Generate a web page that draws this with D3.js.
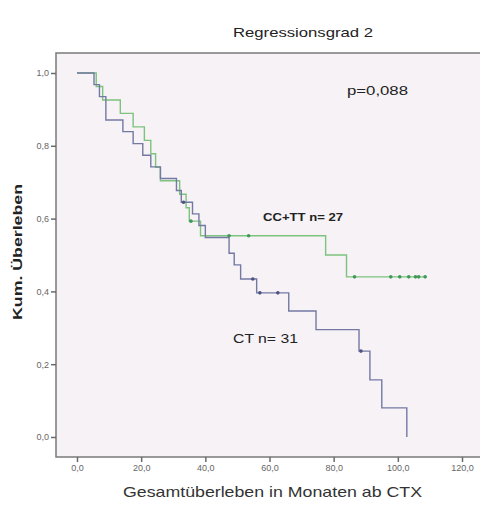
<!DOCTYPE html>
<html>
<head>
<meta charset="utf-8">
<script src="https://cdn.jsdelivr.net/npm/d3@7"></script>
<style>
  html, body { margin: 0; padding: 0; background: #ffffff; }
  svg { display: block; }
</style>
</head>
<body>
<svg id="chart" width="480" height="505"></svg>
<script>
// Kaplan-Meier estimates: step times (months) and cumulative survival
const ctTimes    = [0, 5.3, 7, 9, 14.3, 17.5, 20.5, 23, 26, 31, 32.5, 36, 38, 40, 47.4, 49, 51, 56, 66, 74.5, 87.9, 91.3, 95, 102.8];
const ctSurv     = [1, 0.968, 0.935, 0.871, 0.839, 0.806, 0.774, 0.742, 0.710, 0.677, 0.645, 0.613, 0.581, 0.548, 0.505, 0.473, 0.434, 0.396, 0.346, 0.295, 0.236, 0.157, 0.080, 0];
const ctCensorT  = [33.2, 54.8, 57, 62.6, 88.5];
const ctCensorS  = [0.645, 0.434, 0.396, 0.396, 0.236];

const ccTimes    = [0, 6, 8, 13.5, 17.5, 21, 23, 24.5, 26, 32, 34, 35, 38.5, 77.5, 84, 109];
const ccSurv     = [1, 0.963, 0.926, 0.889, 0.852, 0.815, 0.778, 0.741, 0.704, 0.667, 0.630, 0.593, 0.553, 0.500, 0.440, 0.440];
const ccCensorT  = [35.5, 47.4, 53.5, 86.5, 97.8, 100.6, 103.4, 105.5, 106.5, 108.5];
const ccCensorS  = [0.593, 0.553, 0.553, 0.440, 0.440, 0.440, 0.440, 0.440, 0.440, 0.440];

const xTicks = [0, 20, 40, 60, 80, 100, 120];
const yTicks = [0, 0.2, 0.4, 0.6, 0.8, 1.0];

const svg = d3.select("#chart");
const x = d3.scaleLinear().domain([0, 120]).range([77, 462]);
const y = d3.scaleLinear().domain([0, 1]).range([437, 73]);
const fmt = v => d3.format(".1f")(v).replace(".", ",");

// plot frame
svg.append("rect")
  .attr("x", 56).attr("y", 53)
  .attr("width", 430).attr("height", 404)
  .attr("fill", "#f6f2f6")
  .attr("stroke", "#7a7a7a").attr("stroke-width", 1.5);

// axes
const xAxis = svg.append("g").attr("transform", "translate(0,457)")
  .call(d3.axisBottom(x).tickValues(xTicks).tickFormat(fmt).tickSize(5).tickPadding(3));
const yAxis = svg.append("g").attr("transform", "translate(56,0)")
  .call(d3.axisLeft(y).tickValues(yTicks).tickFormat(fmt).tickSize(5).tickPadding(2));
[xAxis, yAxis].forEach(g => {
  g.select(".domain").remove();
  g.selectAll(".tick line").attr("stroke", "#6a6a6a").attr("stroke-width", 1.5);
  g.selectAll(".tick text")
    .attr("fill", "#666")
    .style("font-family", "'Liberation Sans', Arial, sans-serif")
    .style("font-size", "9px");
});

// survival curves
const line = d3.line().curve(d3.curveStepAfter).x(d => x(d[0])).y(d => y(d[1]));
const ccData = d3.zip(ccTimes, ccSurv);
const ctData = d3.zip(ctTimes, ctSurv);

svg.append("path").datum(ccData)
  .attr("d", line).attr("fill", "none")
  .attr("stroke", "#7cc47e").attr("stroke-width", 1.4);
svg.append("path").datum(ctData)
  .attr("d", line).attr("fill", "none")
  .attr("stroke", "#7479a3").attr("stroke-width", 1.4);

// censored observations
function censorMarks(ts, ss, color) {
  svg.append("g").selectAll("circle")
    .data(d3.zip(ts, ss)).join("circle")
    .attr("cx", d => x(d[0])).attr("cy", d => y(d[1]))
    .attr("r", 1.8).attr("fill", color);
}
censorMarks(ccCensorT, ccCensorS, "#3f9a58");
censorMarks(ctCensorT, ctCensorS, "#4d5380");

// texts
const font = "'Liberation Sans', Arial, sans-serif";
svg.append("text").attr("x", 233).attr("y", 37)
  .attr("textLength", 140).attr("lengthAdjust", "spacingAndGlyphs")
  .style("font-family", font).style("font-size", "13px").attr("fill", "#222")
  .text("Regressionsgrad 2");

svg.append("text").attr("x", 347).attr("y", 95)
  .attr("textLength", 61).attr("lengthAdjust", "spacingAndGlyphs")
  .style("font-family", font).style("font-size", "13px").attr("fill", "#222")
  .text("p=0,088");

svg.append("text").attr("x", 263).attr("y", 221)
  .attr("textLength", 80).attr("lengthAdjust", "spacingAndGlyphs")
  .style("font-family", font).style("font-size", "11px").style("font-weight", "bold").attr("fill", "#222")
  .text("CC+TT n= 27");

svg.append("text").attr("x", 233).attr("y", 343)
  .attr("textLength", 65).attr("lengthAdjust", "spacingAndGlyphs")
  .style("font-family", font).style("font-size", "13px").attr("fill", "#222")
  .text("CT n= 31");

svg.append("text").attr("x", 123).attr("y", 497)
  .attr("textLength", 299).attr("lengthAdjust", "spacingAndGlyphs")
  .style("font-family", font).style("font-size", "15px").attr("fill", "#333")
  .text("Gesamtüberleben in Monaten ab CTX");

svg.append("text")
  .attr("transform", "translate(22,320) rotate(-90)")
  .attr("textLength", 136).attr("lengthAdjust", "spacingAndGlyphs")
  .style("font-family", font).style("font-size", "12px").style("font-weight", "bold").attr("fill", "#222")
  .text("Kum. Überleben");
</script>
</body>
</html>
